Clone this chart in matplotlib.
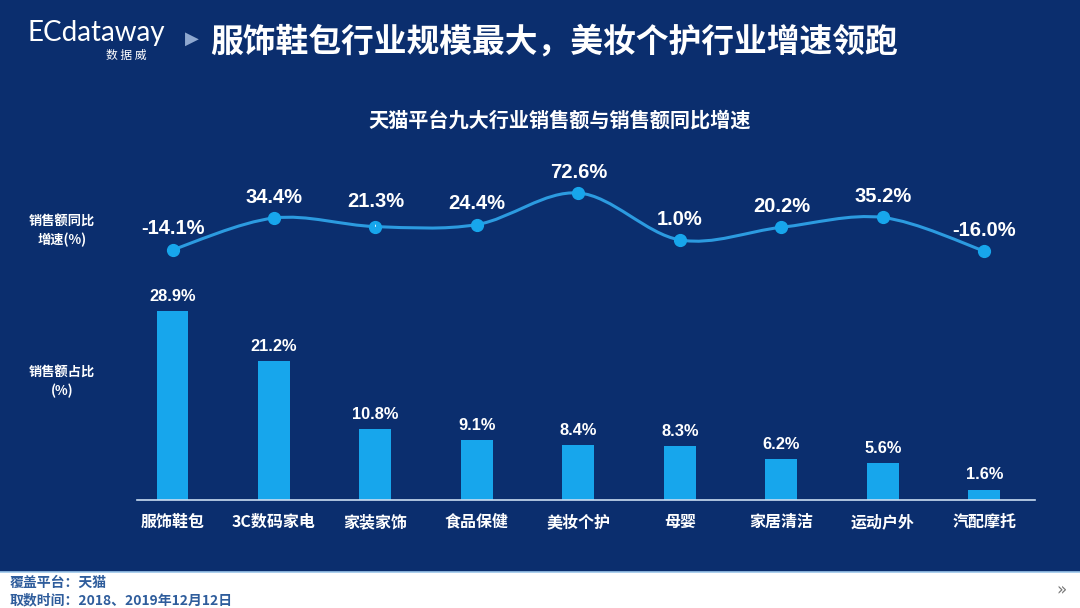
import matplotlib
matplotlib.use("Agg")
import matplotlib.pyplot as plt
from matplotlib.path import Path
from matplotlib.patches import PathPatch, Rectangle
from matplotlib.lines import Line2D
import numpy as np

plt.rcParams['font.family'] = ['Noto Sans CJK SC', 'DejaVu Sans']

categories = ["服饰鞋包", "3C数码家电", "家装家饰", "食品保健", "美妆个护", "母婴", "家居清洁", "运动户外", "汽配摩托"]
share = [28.9, 21.2, 10.8, 9.1, 8.4, 8.3, 6.2, 5.6, 1.6]
growth = [-14.1, 34.4, 21.3, 24.4, 72.6, 1.0, 20.2, 35.2, -16.0]

title = "服饰鞋包行业规模最大，美妆个护行业增速领跑"
subtitle = "天猫平台九大行业销售额与销售额同比增速"
note1 = "覆盖平台：天猫"
note2 = "取数时间：2018、2019年12月12日"

BG = "#0B2E6E"
BAR = "#17A6EC"
LINE = "#2C9BE0"
NUM_FONT = ['Liberation Sans', 'Noto Sans CJK SC']

W, H = 1080, 608
fig = plt.figure(figsize=(W / 100, H / 100), dpi=100)
fig.patch.set_facecolor(BG)

# bottom white strip
fig.add_artist(Rectangle((0, 0), 1, 36 / H, transform=fig.transFigure,
                         facecolor="white", edgecolor="none", zorder=0))
fig.add_artist(Line2D([0, 1], [36.5 / H, 36.5 / H], transform=fig.transFigure,
                      color="#9CC6EA", lw=1.2))

# header
fig.text(27 / W, 1 - 33 / H, "ECdataway", color="white", fontsize=20,
         family=['Lato', 'DejaVu Sans'], va="center", ha="left")
fig.text(126 / W, 1 - 55 / H, "数 据 威", color="white", fontsize=8.5,
         va="center", ha="center")
fig.text(185 / W, 1 - 39 / H, "▶", color="#8FA8D0", fontsize=13,
         family=['DejaVu Sans'], va="center", ha="left")
fig.text(210 / W, 1 - 42 / H, title, color="white", fontsize=23.6,
         fontweight="bold", va="center", ha="left")
fig.text(560 / W, 1 - 120 / H, subtitle, color="white", fontsize=14.5,
         fontweight="bold", va="center", ha="center")

# side labels
fig.text(62 / W, 1 - 231 / H, "销售额同比\n增速(%)", color="white", fontsize=9.5,
         fontweight="bold", va="center", ha="center", linespacing=1.3)
fig.text(62 / W, 1 - 382 / H, "销售额占比\n(%)", color="white", fontsize=9.5,
         fontweight="bold", va="center", ha="center", linespacing=1.3)

# footer
fig.text(10 / W, 1 - 583 / H, note1, color="#2F5D9C", fontsize=10,
         fontweight="bold", style="italic", va="center", ha="left")
fig.text(10 / W, 1 - 600 / H, note2, color="#2F5D9C", fontsize=10,
         fontweight="bold", style="italic", va="center", ha="left")
fig.text(1062 / W, 1 - 590 / H, "»", color="#777777", fontsize=12,
         family=['DejaVu Sans'], va="center", ha="center")

x = np.arange(len(categories))
XL = (-0.35, 8.5)

# bar axes
ax = fig.add_axes([137 / W, 108 / H, 898 / W, 210 / H])
ax.set_facecolor("none")
ax.set_xlim(*XL)
ax.set_ylim(0, 210 / 6.54)
ax.bar(x, share, width=0.315, color=BAR, zorder=2)
for s in ["top", "right", "left"]:
    ax.spines[s].set_visible(False)
ax.spines["bottom"].set_color("#C9DDF2")
ax.spines["bottom"].set_linewidth(1.2)
ax.set_yticks([])
ax.set_xticks(x)
ax.set_xticklabels(categories, color="white", fontsize=11.5, fontweight="bold")
ax.tick_params(axis="x", length=0, pad=10)
for xi, v in zip(x, share):
    ax.annotate(f"{v:.1f}%", (xi, v), xytext=(0, 10.5), textcoords="offset points",
                ha="center", va="center", color="white", fontsize=11.8,
                fontweight="bold", family=NUM_FONT)

# line axes
lx = fig.add_axes([137 / W, (H - 260) / H, 898 / W, 80 / H])
lx.set_facecolor("none")
lx.set_xlim(*XL)
lx.set_ylim(-29.7, 92.4)
lx.axis("off")

pts = np.column_stack([x, growth]).astype(float)
verts = [tuple(pts[0])]
codes = [Path.MOVETO]
n = len(pts)
for i in range(n - 1):
    p0 = pts[i - 1] if i > 0 else pts[i]
    p1 = pts[i]
    p2 = pts[i + 1]
    p3 = pts[i + 2] if i + 2 < n else pts[i + 1]
    c1 = p1 + (p2 - p0) / 6
    c2 = p2 - (p3 - p1) / 6
    verts += [tuple(c1), tuple(c2), tuple(p2)]
    codes += [Path.CURVE4] * 3
lx.add_patch(PathPatch(Path(verts, codes), facecolor="none", edgecolor=LINE,
                       lw=2.2, zorder=2))
lx.plot(x, growth, "o", color=BAR, markersize=8.5, zorder=3)
for i, (xi, v) in enumerate(zip(x, growth)):
    if i == 2:
        lx.annotate(f"{v:.1f}%", (xi, v), xytext=(0, 18), textcoords="offset points",
                    ha="center", va="center", color="white", fontsize=14.5,
                    fontweight="bold", family=NUM_FONT,
                    arrowprops=dict(arrowstyle="-", color="white", lw=0.6,
                                    shrinkA=8, shrinkB=2))
    else:
        lx.annotate(f"{v:.1f}%", (xi, v), xytext=(0, 15), textcoords="offset points",
                    ha="center", va="center", color="white", fontsize=14.5,
                    fontweight="bold", family=NUM_FONT)

fig.savefig("out.png", dpi=100, facecolor=fig.get_facecolor())
